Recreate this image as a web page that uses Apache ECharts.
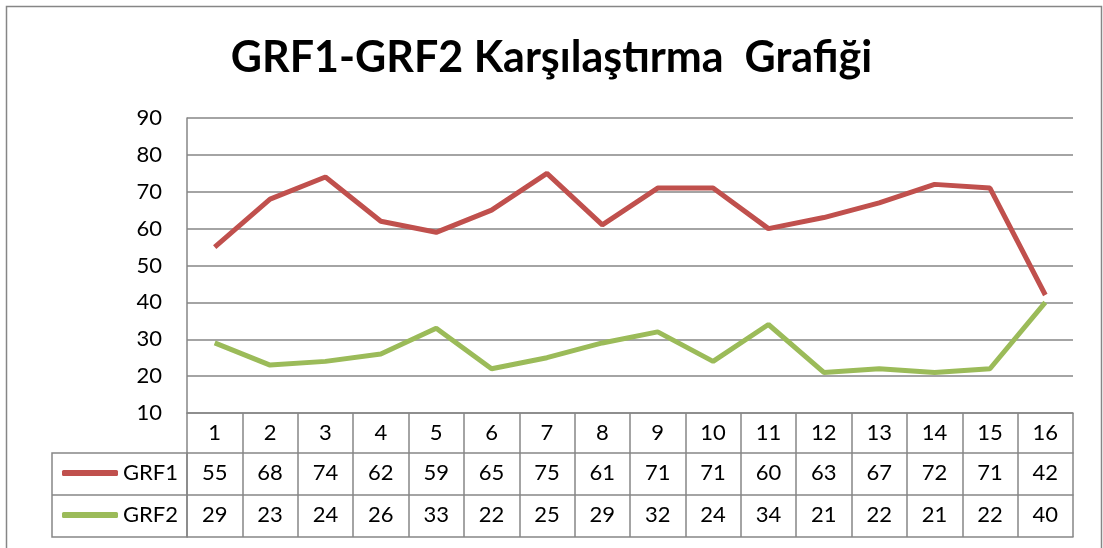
<!DOCTYPE html>
<html>
<head>
<meta charset="utf-8">
<script src="https://cdn.jsdelivr.net/npm/echarts@6/dist/echarts.min.js"></script>
<style>
  html, body { margin: 0; padding: 0; background: #fff; }
  #chart { width: 1103px; height: 548px; }
</style>
</head>
<body>
<div id="chart"></div>
<script>
// veriler
const categories = ['1', '2', '3', '4', '5', '6', '7', '8', '9', '10', '11', '12', '13', '14', '15', '16'];
const grf1 = [55, 68, 74, 62, 59, 65, 75, 61, 71, 71, 60, 63, 67, 72, 71, 42];
const grf2 = [29, 23, 24, 26, 33, 22, 25, 29, 32, 24, 34, 21, 22, 21, 22, 40];
const yMin = 10, yMax = 90, yStep = 10;

const gridColor = '#868686';
const font = 'Lato';

const chart = echarts.init(document.getElementById('chart'));

// tablo satırları icin ek x eksenleri
function rowAxis(offset, labels) {
    return {
        type: 'category',
        data: categories,
        position: 'bottom',
        offset: offset,
        boundaryGap: true,
        axisLine: { show: true, lineStyle: { color: gridColor, width: 1.5 } },
        axisTick: { show: labels !== null, length: 42, lineStyle: { color: gridColor, width: 1.5 } },
        axisLabel: {
            show: labels !== null,
            margin: 9,
            color: '#000',
            fontFamily: font,
            fontSize: 22,
            formatter: (v, i) => labels ? String(labels[i]) : ''
        }
    };
}

const option = {
    animation: false,
    title: {
        text: 'GRF1-GRF2 Karşılaştırma  Grafiği',
        left: 'center',
        top: 32,
        textStyle: { fontFamily: font, fontWeight: 'bold', fontSize: 43, color: '#000' }
    },
    legend: {
        orient: 'vertical',
        left: 57,
        top: 457,
        itemWidth: 56,
        itemHeight: 6,
        itemGap: 20,
        icon: 'roundRect',
        textStyle: { fontFamily: font, fontSize: 22, color: '#000', lineHeight: 22 },
        data: ['GRF1', 'GRF2']
    },
    grid: { left: 187, right: 30, top: 118, bottom: 135 },
    xAxis: [
        {
            type: 'category',
            data: categories,
            position: 'bottom',
            boundaryGap: true,
            axisLine: { show: true, lineStyle: { color: gridColor, width: 1.5 } },
            axisTick: { show: true, length: 40, lineStyle: { color: gridColor, width: 1.5 } },
            axisLabel: { margin: 9, color: '#000', fontFamily: font, fontSize: 22 }
        },
        rowAxis(40, grf1),
        rowAxis(82, grf2),
        rowAxis(124, null)
    ],
    yAxis: {
        type: 'value',
        min: yMin,
        max: yMax,
        interval: yStep,
        axisLine: { show: true, lineStyle: { color: gridColor, width: 1.5 } },
        axisTick: { show: false },
        axisLabel: { margin: 25, color: '#000', fontFamily: font, fontSize: 22 },
        splitLine: { lineStyle: { color: gridColor, width: 1.5 } }
    },
    graphic: [
        {
            type: 'rect',
            shape: { x: 6.5, y: 6.5, width: 1095, height: 560 },
            style: { fill: 'none', stroke: gridColor, lineWidth: 1.5 },
            silent: true
        },
        {
            type: 'rect',
            shape: { x: 52, y: 453, width: 135, height: 84 },
            style: { fill: 'none', stroke: gridColor, lineWidth: 1.5 },
            silent: true
        },
        {
            type: 'line',
            shape: { x1: 52, y1: 495, x2: 187, y2: 495 },
            style: { stroke: gridColor, lineWidth: 1.5 },
            silent: true
        }
    ],
    series: [
        {
            name: 'GRF1',
            type: 'line',
            data: grf1,
            showSymbol: false,
            symbol: 'none',
            itemStyle: { color: '#C0504D' },
            lineStyle: { color: '#C0504D', width: 5 }
        },
        {
            name: 'GRF2',
            type: 'line',
            data: grf2,
            showSymbol: false,
            symbol: 'none',
            itemStyle: { color: '#9BBB59' },
            lineStyle: { color: '#9BBB59', width: 5 }
        }
    ]
};
chart.setOption(option);
</script>
</body>
</html>
